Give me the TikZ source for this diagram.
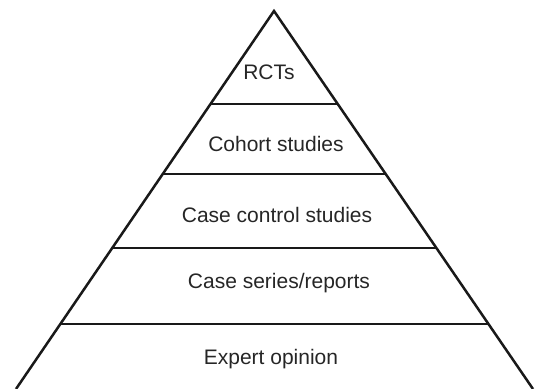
\documentclass[tikz,border=0pt]{standalone}
\usepackage{fontspec}
\setmainfont{Liberation Sans}
\usetikzlibrary{calc}

\tikzset{
  tier/.style={font=\fontsize{10.5}{12}\selectfont, text=black!85},
  edge/.style={line width=1.25pt, black!90}
}

\begin{document}
\begin{tikzpicture}[x=0.5pt, y=0.5pt]
\useasboundingbox (0,0) rectangle (535,389);

% outline of the pyramid
\coordinate (apex) at (274,378);
\coordinate (bl) at (16,0);
\coordinate (br) at (533,0);
\draw[edge, line join=miter] (bl) -- (apex) -- (br);

% dividing lines between the tiers
\foreach \t in {0.172, 0.373, 0.569, 0.754}
  \draw[edge] ($(bl)!\t!(apex)$) -- ($(br)!\t!(apex)$);

\draw (269,317) node[tier] (rct) {RCTs};
\draw (276,245) node[tier] (cohort) {Cohort studies};
\draw (277,174) node[tier] (casectl) {Case control studies};
\draw (279,106) node[tier] (series) {Case series/reports};
\draw (271,30) node[tier] (expert) {Expert opinion};

\end{tikzpicture}
\end{document}
